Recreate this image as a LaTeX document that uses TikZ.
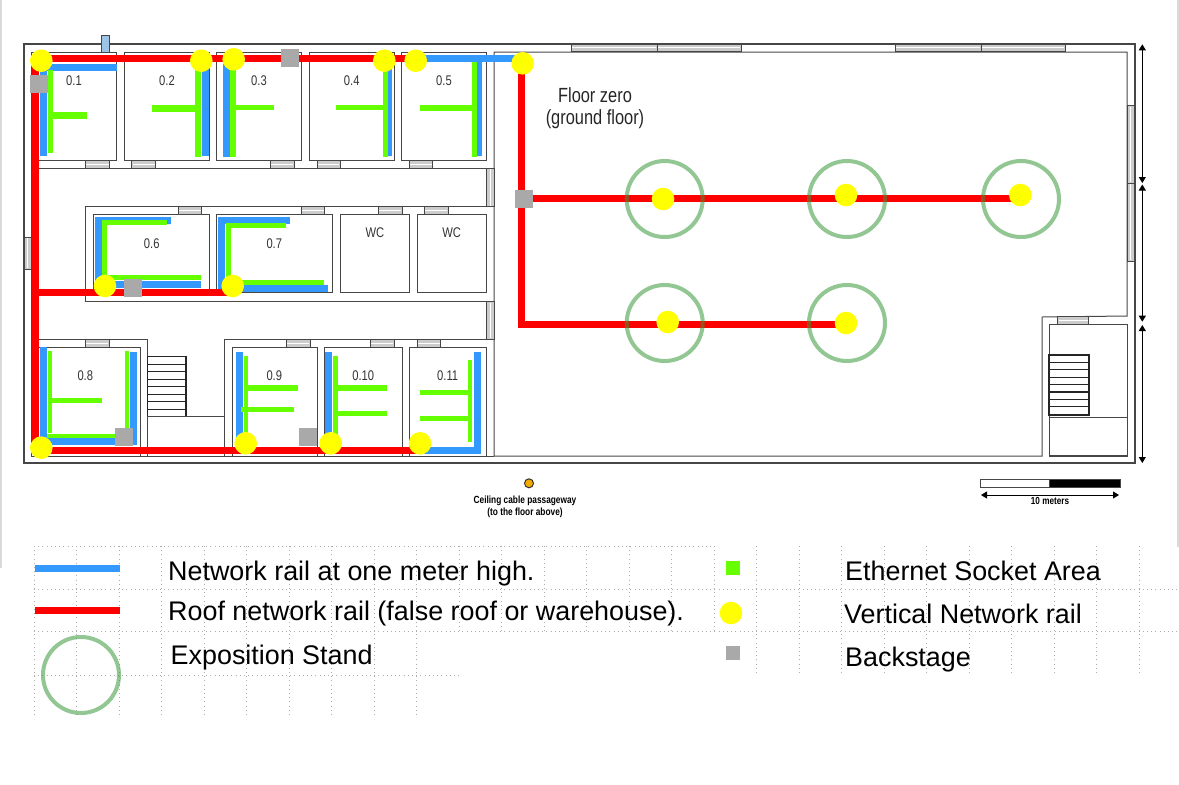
\documentclass[tikz,border=0pt]{standalone}
\usepackage{fontspec}
\setmainfont{Liberation Sans}
\newfontfamily\narrowfont[FakeStretch=0.8]{Liberation Sans}
\usetikzlibrary{arrows.meta,backgrounds}
\definecolor{railblue}{RGB}{51,153,255}
\definecolor{railred}{RGB}{255,0,0}
\definecolor{socketgreen}{RGB}{102,255,0}
\definecolor{standgreen}{RGB}{57,151,57}
\definecolor{dotyellow}{RGB}{255,255,0}
\definecolor{stagegrey}{RGB}{169,169,169}
\definecolor{wallgrey}{RGB}{70,70,70}
\definecolor{boxblue}{RGB}{157,195,230}
\definecolor{holeorange}{RGB}{245,170,0}
\tikzset{
	wall/.style={draw=wallgrey,line width=1pt},
	stairline/.style={draw=black!85,line width=1.2pt},
	door/.style={draw=wallgrey,line width=1pt,fill=black!20},
	doorline/.style={draw=white,line width=1pt},
	dimarrow/.style={draw=black,line width=1pt,{Triangle[length=6pt,width=7pt]}-{Triangle[length=6pt,width=7pt]}},
	griddot/.style={draw=black!32,line width=0.8pt,dash pattern=on 0.8pt off 3.4pt},
	roofrail/.style={draw=railred,line width=7pt},
	lowrail/.style={draw=railblue,line width=7pt},
	socket/.style={draw=socketgreen,line width=5pt},
	vertdot/.style={circle,fill=dotyellow,minimum size=22.6pt,inner sep=0pt},
	backstage/.style={rectangle,fill=stagegrey,minimum size=18pt,inner sep=0pt},
	stand/.style={circle,draw=standgreen,draw opacity=0.55,line width=4pt,minimum size=76pt,inner sep=0pt},
	roomlabel/.style={text=black!80,font=\narrowfont\fontsize{14}{16}\selectfont,inner sep=0pt},
	legendtext/.style={anchor=base west,inner sep=0pt,font=\fontsize{26.9}{30}\selectfont}
}
\begin{document}
\begin{tikzpicture}[x=1pt,y=-1pt]
	\useasboundingbox (0,0) rectangle (1179,785);

	\node[stand] (standA) at (664.7,199) {};
	\node[stand] (standB) at (847,199) {};
	\node[stand] (standC) at (1021,199) {};
	\node[stand] (standD) at (664.7,323) {};
	\node[stand] (standE) at (847,323) {};
	\node[stand] (standkey) at (81,675) {};

	\node[vertdot] (dotA) at (41.3,60.7) {};
	\node[vertdot] (dotB) at (201.3,60.7) {};
	\node[vertdot] (dotC) at (233.7,59.3) {};
	\node[vertdot] (dotD) at (384.3,60.7) {};
	\node[vertdot] (dotE) at (415.7,60.7) {};
	\node[vertdot] (dotF) at (522.7,63.3) {};
	\node[vertdot] (dotG) at (105,286) {};
	\node[vertdot] (dotH) at (232.7,286) {};
	\node[vertdot] (dotI) at (41.3,447.7) {};
	\node[vertdot] (dotJ) at (245.7,443.3) {};
	\node[vertdot] (dotK) at (330.7,443.3) {};
	\node[vertdot] (dotL) at (420,443.3) {};
	\node[vertdot] (dotM) at (663,199) {};
	\node[vertdot] (dotN) at (846,195) {};
	\node[vertdot] (dotO) at (1020.3,195) {};
	\node[vertdot] (dotP) at (667.7,322) {};
	\node[vertdot] (dotQ) at (846,323) {};

	\node[backstage] (stageA) at (39.3,84) {};
	\node[backstage] (stageB) at (290.3,58.3) {};
	\node[backstage] (stageC) at (524,199) {};
	\node[backstage] (stageD) at (133,288.3) {};
	\node[backstage] (stageE) at (124.3,437) {};
	\node[backstage] (stageF) at (307.7,437) {};

	\coordinate (railA) at (35,58.3);
	\coordinate (railB) at (35,450);
	\coordinate (railC) at (521,58.3);
	\coordinate (railD) at (521,198.7);
	\coordinate (railE) at (521,324);
	\coordinate (railF) at (39,292.3);

	\begin{pgfonlayer}{background}
		\draw[wall,line width=1.4pt] (24,44) rectangle (1135,463);
		\draw[wall] (494,52) -- (494,456) -- (1042,456) -- (1042,317) -- (1127,316) -- (1127,52) -- cycle;
		\draw[wall] (1049,324) rectangle (1127,456);
		\draw[wall] (1049,417) rectangle (1127,455);
		\draw[stairline] (1049,355) rectangle (1089,415);
		\foreach \y in {362.4,369.8,377.2,384.6,392,399.4,406.8} \draw[stairline] (1049,\y) -- (1089,\y);

		\draw[wall] (31,52) rectangle (116.7,160.7);
		\draw[wall] (124,52) rectangle (209.5,160.7);
		\draw[wall] (216.7,52) rectangle (301.7,160.7);
		\draw[wall] (309.3,52) rectangle (394.3,160.7);
		\draw[wall] (401.7,52) rectangle (486.7,160.7);
		\draw[wall] (31,52) -- (31,456) -- (494,456);
		\draw[wall] (31,168.3) -- (494,168.3);

		\draw[wall] (494,206.7) -- (85.7,206.7) -- (85.7,301) -- (494,301);
		\draw[wall] (93.3,214.7) rectangle (209.3,292.3);
		\draw[wall] (216,214.7) rectangle (332.3,292.3);
		\draw[wall] (340,214.7) rectangle (409.3,292.3);
		\draw[wall] (417.3,214.7) rectangle (486.7,292.3);

		\draw[wall] (31,339.3) -- (147.3,339.3) -- (147.3,456);
		\draw[wall] (494,339.3) -- (224.7,339.3) -- (224.7,456);
		\draw[wall] (31,347.3) rectangle (140,456);
		\draw[wall] (232.3,347.3) rectangle (317.3,456);
		\draw[wall] (324.3,347.3) rectangle (402,456);
		\draw[wall] (409.3,347.3) rectangle (486.7,456);
		\draw[stairline] (147.3,356.7) rectangle (186,416.7);
		\foreach \y in {364.2,371.7,379.2,386.7,394.2,401.7,409.2} \draw[stairline] (147.3,\y) -- (186,\y);
		\draw[wall] (147.3,416.7) rectangle (224.7,456);

		\foreach \xa/\xb/\ya in {85.3/109.7/160.7,131.7/155.7/160.7,270/294/160.7,317.3/340.3/160.7,409.3/432.7/160.7,178.3/201.7/206.7,301.3/324.7/206.7,378.3/402/206.7,424.3/448.3/206.7,85.3/109.3/339.3,286/310/339.3,370.3/394.3/339.3,417.3/440.7/339.3,1057.5/1088.7/316.5,571/657/44,657/741/44,895/981/44,981/1065/44}{
			\draw[door] (\xa,\ya) rectangle (\xb,\ya+7.7);
			\draw[doorline] (\xa+1,\ya+3.85) -- (\xb-1,\ya+3.85);
		}
		\foreach \ya/\yb/\xa in {168.3/206.7/486.7,301.7/339.3/486.7,105.7/183.3/1127,183.3/261.3/1127,237.3/269.3/24}{
			\draw[door] (\xa,\ya) rectangle (\xa+7.5,\yb);
			\draw[doorline] (\xa+3.75,\ya+1) -- (\xa+3.75,\yb-1);
		}

		\draw[lowrail] (116.7,67) -- (43.3,67) -- (43.3,156);
		\draw[socket] (50,70) -- (50,153);
		\draw[socket,line width=7pt] (50,115) -- (87,115);

		\draw[lowrail] (205,60) -- (205,156);
		\draw[socket,line width=6.4pt] (198,70) -- (198,157);
		\draw[socket,line width=7pt] (152,108.3) -- (198,108.3);

		\draw[lowrail] (226.3,60) -- (226.3,156.7);
		\draw[socket,line width=6.4pt] (232.7,60) -- (232.7,157);
		\draw[socket] (232.7,107.7) -- (274,107.7);

		\draw[lowrail,line width=5pt] (389,60) -- (389,156);
		\draw[socket] (385.7,60) -- (385.7,157);
		\draw[socket] (336,107.7) -- (385.7,107.7);

		\draw[lowrail,line width=5pt] (479,58) -- (479,156);
		\draw[socket] (474.7,62) -- (474.7,157);
		\draw[socket,line width=6pt] (420,107.7) -- (474.7,107.7);

		\draw[lowrail] (171,220) -- (98.7,220) -- (98.7,284) -- (201,284);
		\draw[socket] (167,222.3) -- (104.7,222.3) -- (104.7,277) -- (201,277);
		\draw[lowrail] (290,220) -- (221.7,220) -- (221.7,288) -- (328,288);
		\draw[socket] (286.3,225.7) -- (228,225.7) -- (228,282) -- (324.3,282);

		\draw[lowrail] (43.3,347.3) -- (43.3,441) -- (133,441) -- (133,352);
		\draw[lowrail] (130,441) -- (137,441);
		\draw[socket,line width=4pt] (50,351.3) -- (50,433);
		\draw[socket,line width=4pt] (126.7,351.3) -- (126.7,433);
		\draw[socket,line width=4pt] (47,435.7) -- (115,435.7);
		\draw[socket] (50,400.7) -- (102,400.7);

		\draw[lowrail] (239,352) -- (239,440);
		\draw[socket,line width=4pt] (245.7,355.7) -- (245.7,440);
		\draw[socket,line width=5.5pt] (245.7,388) -- (297.7,388);
		\draw[socket] (241,409.3) -- (293.7,409.3);

		\draw[lowrail] (328.3,352) -- (328.3,440);
		\draw[socket,line width=4.5pt] (335.3,355.7) -- (335.3,440);
		\draw[socket,line width=5.5pt] (335.3,388) -- (387,388);
		\draw[socket] (335.3,413.7) -- (387,413.7);

		\draw[lowrail] (477,352) -- (477,450) -- (420,450);
		\draw[socket,line width=4pt] (470.3,360) -- (470.3,441.7);
		\draw[socket] (420,392.3) -- (470.3,392.3);
		\draw[socket] (420,418) -- (470.3,418);

		\draw[roofrail] (railA -| dotE) -- (railA) -- (railB) -- (railB -| dotL);
		\draw[lowrail] (railA -| dotE) -- (railA -| dotF);
		\draw[roofrail] (railC) -- (railE) -- (railE -| dotQ);
		\draw[roofrail] (railD) -- (railD -| dotO);
		\draw[roofrail] (railF) -- (railF -| dotH);

		\foreach \k in {0,...,9} \draw[griddot] ({34+42.5*\k},546) -- ({34+42.5*\k},717);
		\foreach \k in {10,...,16} \draw[griddot] ({34+42.5*\k},546) -- ({34+42.5*\k},631);
		\foreach \k in {17,...,26} \draw[griddot] ({34+42.5*\k},546) -- ({34+42.5*\k},673);
		\draw[griddot] (34,546) -- (715,546);
		\draw[griddot] (34,589) -- (1179,589);
		\draw[griddot] (34,631) -- (1179,631);
		\draw[griddot] (34,675) -- (460,675);
	\end{pgfonlayer}

	\draw[black!15,line width=2pt] (1,0) -- (1,568);
	\draw[black!15,line width=2pt] (1178,0) -- (1178,547);

	\node[rectangle,draw=wallgrey,fill=boxblue,line width=1pt,minimum width=8pt,minimum height=16.5pt,inner sep=0pt] (cablebox) at (105.3,44) {};

	\coordinate (dimA) at (1142.3,44.3);
	\coordinate (dimB) at (1142.3,183);
	\coordinate (dimC) at (1142.3,184.5);
	\coordinate (dimD) at (1142.3,321.7);
	\coordinate (dimE) at (1142.3,325);
	\coordinate (dimF) at (1142.3,463);
	\draw[dimarrow] (dimA) -- (dimB);
	\draw[dimarrow] (dimC) -- (dimD);
	\draw[dimarrow] (dimE) -- (dimF);

	\node[roomlabel] (room1) at (74,81) {0.1};
	\node[roomlabel] (room2) at (167,81) {0.2};
	\node[roomlabel] (room3) at (259,81) {0.3};
	\node[roomlabel] (room4) at (351.7,81) {0.4};
	\node[roomlabel] (room5) at (444,81) {0.5};
	\node[roomlabel] (room6) at (151.7,244) {0.6};
	\node[roomlabel] (room7) at (274.3,244) {0.7};
	\node[roomlabel] (roomwca) at (375,233) {WC};
	\node[roomlabel] (roomwcb) at (451.7,233) {WC};
	\node[roomlabel] (room8) at (85.3,376) {0.8};
	\node[roomlabel] (room9) at (274.3,376) {0.9};
	\node[roomlabel] (room10) at (363.3,376) {0.10};
	\node[roomlabel] (room11) at (447.7,376) {0.11};

	\node[align=center,inner sep=0pt,text=black!85,font=\narrowfont\fontsize{20.5}{22}\selectfont] (floorname) at (595,108.5) {Floor zero\\(ground floor)};

	\node[circle,draw=black!80,fill=holeorange,line width=1pt,minimum size=9pt,inner sep=0pt] (passage) at (529,483.3) {};
	\node[align=center,inner sep=0pt,font=\narrowfont\bfseries\fontsize{10.4}{12.5}\selectfont] (passagetext) at (525,507) {Ceiling cable passageway\\(to the floor above)};

	\draw[wall,fill=white] (980,479) rectangle (1049.5,487);
	\draw[wall,fill=black] (1049.5,479) rectangle (1120,487);
	\coordinate (scaleA) at (981,495);
	\coordinate (scaleB) at (1119,495);
	\draw[dimarrow] (scaleA) -- (scaleB);
	\node[inner sep=0pt,font=\narrowfont\bfseries\fontsize{10.2}{12}\selectfont] (scaletext) at (1050,501) {10 meters};

	\coordinate (keyblueA) at (35,568);
	\coordinate (keyblueB) at (120,568);
	\coordinate (keyredA) at (35,610);
	\coordinate (keyredB) at (120,610);
	\draw[lowrail] (keyblueA) -- (keyblueB);
	\draw[roofrail] (keyredA) -- (keyredB);
	\node[rectangle,fill=socketgreen,minimum size=14pt,inner sep=0pt] (keysocket) at (733,567.5) {};
	\node[vertdot] (keydot) at (731,613) {};
	\node[rectangle,fill=stagegrey,minimum size=14pt,inner sep=0pt] (keystage) at (733,652.5) {};

	\node[legendtext] (keytexta) at (168,580) {Network rail at one meter high.};
	\node[legendtext] (keytextb) at (168,620) {Roof network rail (false roof or warehouse).};
	\node[legendtext] (keytextc) at (170.5,664) {Exposition Stand};
	\node[legendtext] (keytextd) at (845,580) {Ethernet Socket Area};
	\node[legendtext] (keytexte) at (844,623.3) {Vertical Network rail};
	\node[legendtext] (keytextf) at (845,666.7) {Backstage};
\end{tikzpicture}
\end{document}
